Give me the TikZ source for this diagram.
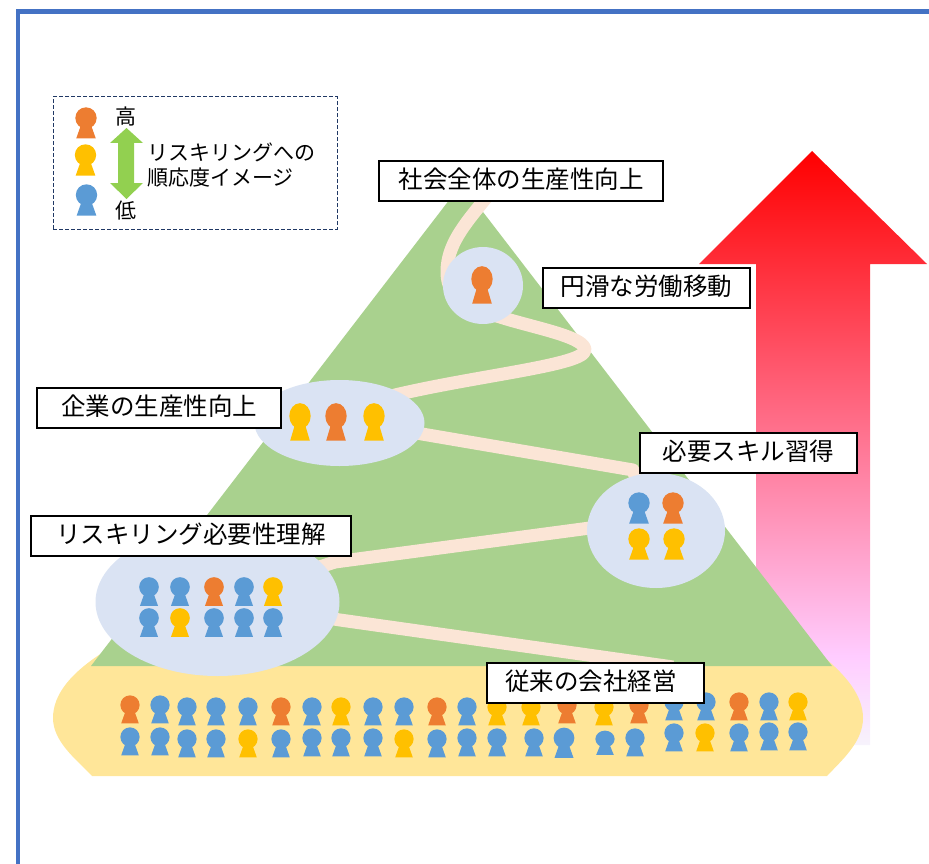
\documentclass[tikz,border=0pt]{standalone}
\usepackage{fontspec}
\setmainfont{Noto Sans CJK JP}
\definecolor{frameblue}{HTML}{4472C4}
\definecolor{hillgreen}{HTML}{A9D18E}
\definecolor{bandyellow}{HTML}{FFE699}
\definecolor{roadpeach}{HTML}{FBE5D6}
\definecolor{bubbleblue}{HTML}{DAE3F3}
\definecolor{dotO}{HTML}{ED7D31}
\definecolor{dotY}{HTML}{FFC000}
\definecolor{dotB}{HTML}{5B9BD5}
\definecolor{legendnavy}{HTML}{203864}
\definecolor{arrowgreen}{HTML}{92D050}
\definecolor{arrowlow}{HTML}{FFCCFF}
\definecolor{arrowend}{HTML}{F7F3FC}
\pgfdeclareverticalshading{risefade}{100bp}{color(0bp)=(arrowend);color(25bp)=(arrowend);color(32.5bp)=(arrowlow);color(75bp)=(red);color(100bp)=(red)}
\tikzset{
	person/.pic={
		\fill[pic actions] (0,0) circle (10.7);
		\fill[pic actions] (-5,7) -- (5,7) -- (9.8,20.5) -- (-9.8,20.5) -- cycle;
	},
	labelbox/.style={draw=black,line width=1.5pt,fill=white,inner sep=0pt,minimum height=40pt,text height=20pt,text depth=5.4pt,font=\fontsize{24.5}{28}\selectfont},
	legendtext/.style={inner sep=0pt,font=\fontsize{21}{25}\selectfont},
	bubble/.style={fill=bubbleblue},
	road/.style={draw=roadpeach,line width=13pt,line join=round}
}
\begin{document}
\begin{tikzpicture}[x=1pt,y=-1pt]
	\useasboundingbox (0,0) rectangle (929,864);
	\draw[frameblue,line width=4.5pt] (18,864) -- (18,11.5) -- (929,11.5);
	\shade[shading=risefade] (812,151) -- (927,264) -- (870,264) -- (870,745) -- (756,745) -- (756,264) -- (699,264) -- cycle;
	\fill[bandyellow] (110,648) .. controls (70,672) and (53,695) .. (53,718) .. controls (53,742) and (77,760) .. (92,776) -- (827,776) .. controls (842,760) and (863,742) .. (863,718) .. controls (863,695) and (845,675) .. (825,658) -- cycle;
	\fill[hillgreen] (461.5,184) -- (832,666) -- (91,666) -- cycle;
	\draw[road] (486,198) .. controls (464,225) and (447,245) .. (447,272) .. controls (447,300) and (470,308) .. (510,320) .. controls (545,330) and (585,338) .. (585,350) .. controls (585,365) and (480,375) .. (395,395) -- (340,420) -- (633,470) -- (650,520) -- (335,562) -- (217,600) -- (340,620) -- (673,667);
	\fill[bubble] (483,285.5) ellipse (40 and 38.5);
	\fill[bubble] (339.5,423) ellipse (85 and 43);
	\fill[bubble] (656,530.5) ellipse (69 and 57.5);
	\fill[bubble] (217.5,602) ellipse (122 and 74);
	\foreach \x/\c in {149/dotB,180/dotB,214/dotO,244/dotB,273/dotY}
		\pic[fill=\c,scale=.92] at (\x,587) {person};
	\foreach \x/\c in {149/dotB,180/dotY,214/dotB,244/dotB,273/dotB}
		\pic[fill=\c,scale=.92] at (\x,618) {person};
	\foreach \x/\y/\c in {639/503/dotB,673/503/dotO,639/539/dotY,674/539/dotY}
		\pic[fill=\c] at (\x,\y) {person};
	\foreach \x/\c in {300/dotY,336/dotO,374/dotY}
		\pic[fill=\c,yscale=1.2] at (\x,416) {person};
	\pic[fill=dotO,yscale=1.2] at (482,279) {person};
	\foreach \x/\y/\c in {130/705/dotO,160/705/dotB,187/707/dotB,216/707/dotB,248/707/dotB,281/707/dotO,312/707/dotB,341/707/dotY,373/707/dotB,404/707/dotB,437/707/dotO,467/707/dotB,497/707/dotY,531/707/dotY,567/705/dotO,604/707/dotY,639/705/dotO,674/702/dotB,706/702/dotB,739/702/dotO,769/702/dotB,798/702/dotY}
		\pic[fill=\c,scale=.9] at (\x,\y) {person};
	\foreach \x/\y/\c in {130/737/dotB,160/737/dotB,187/739/dotB,216/739/dotB,248/739/dotY,281/739/dotB,312/738/dotB,341/738/dotB,373/738/dotB,404/739/dotY,437/739/dotB,467/738/dotB,497/738/dotB,534/738/dotB,635/738/dotB,674/733/dotB,705/733/dotY,739/733/dotB,769/732/dotB,798/732/dotB}
		\pic[fill=\c,scale=.9] at (\x,\y) {person};
	\pic[fill=dotB,scale=.97] at (564,738) {person};
	\pic[fill=dotB,xscale=.9,yscale=.78] at (605,739) {person};
	\node (society) [labelbox,minimum width=284pt] at (521,181) {社会全体の生産性向上};
	\node (mobility) [labelbox,minimum width=207pt] at (646.5,288) {円滑な労働移動};
	\node (company) [labelbox,minimum width=244pt] at (159,408) {企業の生産性向上};
	\node (skill) [labelbox,minimum width=217pt] at (748.5,453) {必要スキル習得};
	\node (need) [labelbox,minimum width=320pt] at (191,536) {リスキリング必要性理解};
	\node (legacy) [labelbox,minimum width=217pt] at (595.5,683) {従来の会社経営\kern9pt};
	\node (legend) [draw=legendnavy,line width=1pt,dash pattern=on 4pt off 2pt,minimum width=284pt,minimum height=132pt] at (195,163) {};
	\pic[fill=dotO] at (86,118) {person};
	\pic[fill=dotY] at (85.5,155) {person};
	\pic[fill=dotB] at (86.5,195) {person};
	\fill[arrowgreen] (126.5,128) -- (143,143) -- (134,143) -- (134,183) -- (143,183) -- (126.5,199) -- (110,183) -- (118,183) -- (118,143) -- (110,143) -- cycle;
	\node (high) [legendtext] at (126,117) {高};
	\node (low) [legendtext] at (126,211) {低};
	\node (fit) [legendtext,anchor=west,align=left] at (147,165) {リスキリングへの\\順応度イメージ};
\end{tikzpicture}
\end{document}
